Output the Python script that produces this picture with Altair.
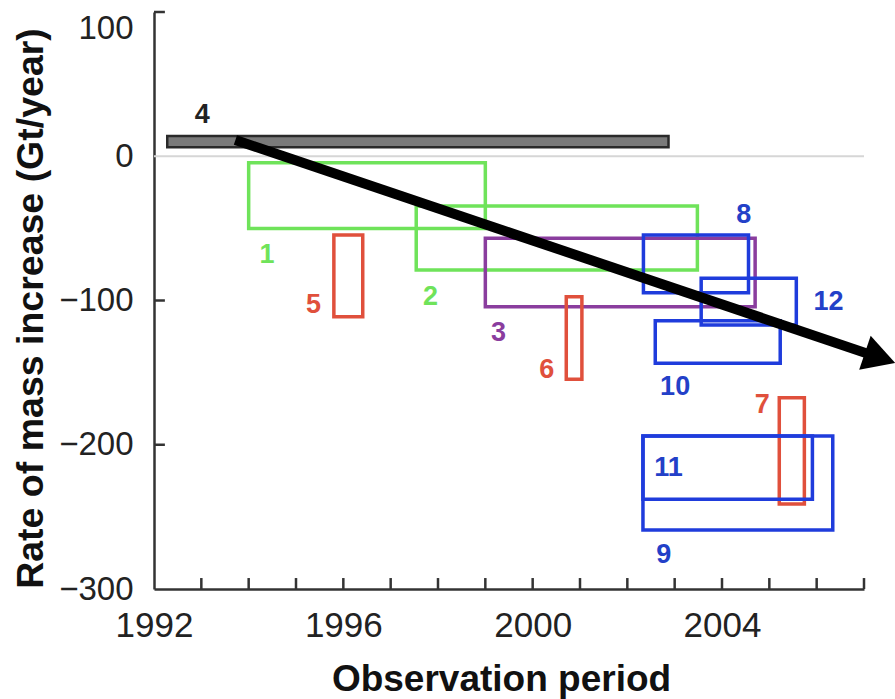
import altair as alt
import pandas as pd

# ---- data ----
ids = ["4", "1", "2", "3", "5", "6", "7", "8", "9", "10", "11", "12"]
groups = ["reference", "altimetry", "altimetry", "budget", "flux", "flux", "flux",
          "gravity", "gravity", "gravity", "gravity", "gravity"]
start_year = [1992.28, 1994.0, 1997.54, 1999.0, 1995.8, 2000.71, 2005.21,
              2002.34, 2002.33, 2002.59, 2002.33, 2003.56]
end_year = [2002.87, 1999.0, 2003.48, 2004.7, 1996.41, 2001.04, 2005.74,
            2004.56, 2006.34, 2005.23, 2005.91, 2005.57]
upper = [14.0, -4.5, -34.5, -56.9, -54.6, -97.4, -167.4, -54.6, -193.9, -114.0, -193.9, -84.6]
lower = [6.2, -50.0, -78.9, -104.3, -111.2, -154.6, -241.0, -94.6, -259.1, -143.5, -237.8, -117.0]
label_year = [1993.02, 1994.39, 1997.84, 1999.28, 1995.37, 2000.30, 2004.85,
              2004.46, 2002.77, 2003.01, 2002.87, 2006.25]
label_value = [28.6, -68.5, -97.4, -122.7, -103.1, -148.2, -172.4,
               -40.7, -276.4, -159.8, -216.3, -100.8]

trend_year = [1993.72, 2007.26]
trend_value = [11.3, -138.9]
tip_year = [2007.66]
tip_value = [-143.3]

x_tick_years = list(range(1993, 2008))
y_tick_values = [100, -100, -200]
x_label_values = [1992, 1996, 2000, 2004]
y_label_values = [-300, -200, -100, 0, 100]

# ---- styles ----
group_domain = ["reference", "altimetry", "budget", "flux", "gravity"]
stroke_range = ["#2a2a2a", "#6fe35a", "#8a3d9e", "#e0503c", "#1f3cdc"]
text_range = ["#222222", "#6fe35a", "#8a3d9e", "#e0503c", "#2340c8"]

df = pd.DataFrame({"id": ids, "group": groups, "x1": start_year, "x2": end_year,
                   "y1": upper, "y2": lower, "lx": label_year, "ly": label_value})
FONT = "Liberation Sans"

x_scale = alt.Scale(domain=[1992, 2007], nice=False, zero=False)
y_scale = alt.Scale(domain=[-300, 100], nice=False, zero=False)

x_axis = alt.Axis(values=x_label_values, format="d", ticks=False, grid=False,
                  domainColor="#333333", domainWidth=2.5, labelFontSize=35,
                  labelColor="#222222", labelPadding=19, labelFlush=False,
                  labelFont=FONT, title="Observation period", titleFontSize=37,
                  titleFont=FONT, titleFontWeight="bold", titleColor="#111111",
                  titleX=347, titleY=101, titleBaseline="alphabetic")
y_axis = alt.Axis(values=y_label_values, ticks=False, grid=False,
                  domainColor="#333333", domainWidth=2.5, labelFontSize=33,
                  labelColor="#222222", labelPadding=21, labelFont=FONT,
                  labelBaseline=alt.ConditionalAxisLabelBaseline(
                      condition={"test": "datum.value == 100", "value": "top"}, value="middle"),
                  title="Rate of mass increase (Gt/year)", titleFontSize=37.5,
                  titleFont=FONT, titleFontWeight="bold", titleColor="#111111",
                  titleX=-112, titleY=296, titleBaseline="alphabetic")

X = lambda f: alt.X(f, scale=x_scale, axis=x_axis)
Y = lambda f: alt.Y(f, scale=y_scale, axis=y_axis)

zero = alt.Chart(pd.DataFrame({"v": [0]})).mark_rule(color="#d6d6d6", strokeWidth=2).encode(
    y=Y("v:Q"))

xt = alt.Chart(pd.DataFrame({"yr": x_tick_years})).mark_rule(color="#333333", strokeWidth=2.5).encode(
    x=X("yr:Q"), y=alt.datum(-300), y2=alt.datum(-292.4))
yt = alt.Chart(pd.DataFrame({"v": y_tick_values})).mark_rule(color="#333333", strokeWidth=2.5).encode(
    y=Y("v:Q"), x=alt.datum(1992), x2=alt.datum(1992.23))

ref_bar = alt.Chart(df[df.group == "reference"]).mark_rect(
    fill="#7a7a7a", stroke="#2a2a2a", strokeWidth=2.5).encode(
    x=X("x1:Q"), x2="x2:Q", y=Y("y1:Q"), y2="y2:Q")

boxes = alt.Chart(df[df.group != "reference"]).mark_rect(
    fillOpacity=0, strokeWidth=3.5).encode(
    x=X("x1:Q"), x2="x2:Q", y=Y("y1:Q"), y2="y2:Q",
    stroke=alt.Stroke("group:N", scale=alt.Scale(domain=group_domain, range=stroke_range), legend=None))

labels = alt.Chart(df).mark_text(font=FONT, fontSize=27, fontWeight="bold",
                                 align="center", baseline="middle").encode(
    x=X("lx:Q"), y=Y("ly:Q"), text="id:N",
    color=alt.Color("group:N", scale=alt.Scale(domain=group_domain, range=text_range), legend=None))

trend = alt.Chart(pd.DataFrame({"yr": trend_year, "v": trend_value})).mark_line(
    color="black", strokeWidth=10, strokeCap="butt").encode(x=X("yr:Q"), y=Y("v:Q"))
head = alt.Chart(pd.DataFrame({"yr": tip_year, "v": tip_value})).mark_point(
    shape="M0,0 L-1,-0.56 L-1,0.56 Z", size=4096, angle=18.7, filled=True,
    color="black", opacity=1, strokeWidth=0).encode(x=X("yr:Q"), y=Y("v:Q"))

chart = alt.layer(zero, xt, yt, ref_bar, boxes, labels, trend, head).properties(
    width=710, height=577,
    autosize=alt.AutoSizeParams(type="none"),
    padding={"left": 154, "top": 12, "right": 31, "bottom": 110},
    background="white",
).configure_view(stroke=None)

chart.save("out.html", embed_options={"renderer": "svg", "actions": False})
